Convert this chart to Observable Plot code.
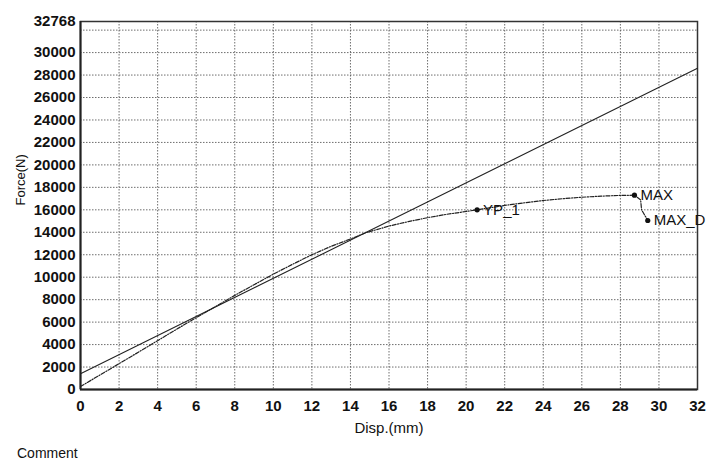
<!DOCTYPE html>
<html>
<head>
<meta charset="utf-8">
<script src="https://cdn.jsdelivr.net/npm/d3@7"></script>
<script src="https://cdn.jsdelivr.net/npm/@observablehq/plot@0.6"></script>
<style>
  html, body { margin: 0; padding: 0; background: #fff; }
  body { width: 707px; height: 460px; overflow: hidden; font-family: "Liberation Sans", Arial, sans-serif; }
  #comment { height: 20px; line-height: 20px; padding-left: 17px; padding-top: 3px; font-size: 14px; color: #111; }
</style>
</head>
<body>
<div id="chart"></div>
<div id="comment">Comment</div>
<script>
// Straight reference line (solid)
const lineDisp = [0, 32];
const lineForce = [1400, 28600];

// Measured force-displacement curve (dash-dot)
const curveDisp = [0, 1, 2, 3, 4, 5, 6, 7, 8, 9, 10, 11, 12, 13, 14, 14.8, 16, 17, 18, 19, 20, 20.57, 22, 23, 24, 25, 26, 27, 28, 28.73, 29.05, 29.1, 29.42];
const curveForce = [270, 1280, 2300, 3320, 4350, 5380, 6400, 7380, 8380, 9330, 10270, 11150, 12000, 12750, 13400, 13960, 14550, 14950, 15300, 15600, 15850, 16000, 16390, 16620, 16830, 16990, 17120, 17220, 17280, 17300, 16890, 16000, 15050];

// Marked points
const pointNames = ["YP_1", "MAX", "MAX_D"];
const pointDisp = [20.57, 28.73, 29.42];
const pointForce = [16000, 17300, 15050];

// Ticks and grid
const xTicks = [0, 2, 4, 6, 8, 10, 12, 14, 16, 18, 20, 22, 24, 26, 28, 30, 32];
const yTicks = [0, 2000, 4000, 6000, 8000, 10000, 12000, 14000, 16000, 18000, 20000, 22000, 24000, 26000, 28000, 30000, 32768];
const yGrid = [2000, 4000, 6000, 8000, 10000, 12000, 14000, 16000, 18000, 20000, 22000, 24000, 26000, 28000, 30000, 32000];
const xGrid = [2, 4, 6, 8, 10, 12, 14, 16, 18, 20, 22, 24, 26, 28, 30];

const lineData = lineDisp.map((d, i) => ({disp: d, force: lineForce[i]}));
const curveData = curveDisp.map((d, i) => ({disp: d, force: curveForce[i]}));
const pointData = pointNames.map((n, i) => ({name: n, disp: pointDisp[i], force: pointForce[i]}));

const ink = "#111";
const chart = Plot.plot({
  width: 707,
  height: 440,
  marginLeft: 80,
  marginRight: 10,
  marginTop: 21,
  marginBottom: 51,
  style: {fontFamily: "'Liberation Sans', Arial, sans-serif", background: "#fff", color: ink},
  x: {domain: [0, 32]},
  y: {domain: [0, 32768]},
  marks: [
    Plot.gridX(xGrid, {stroke: "#555", strokeOpacity: 0.85, strokeDasharray: "1.5,1.5", strokeWidth: 1}),
    Plot.gridY(yGrid, {stroke: "#555", strokeOpacity: 0.85, strokeDasharray: "1.5,1.5", strokeWidth: 1}),
    Plot.frame({stroke: "#333", strokeWidth: 1.5}),
    Plot.ruleX([0], {stroke: "#222", strokeWidth: 2}),
    Plot.ruleY([0], {stroke: "#222", strokeWidth: 2}),
    Plot.axisX(xTicks, {tickSize: 0, tickPadding: 11, fontSize: 15, fontWeight: "bold", fill: ink, label: null, tickFormat: d => String(d)}),
    Plot.axisY(yTicks, {tickSize: 0, tickPadding: 5, fontSize: 15, fontWeight: "bold", fill: ink, label: null, tickFormat: d => String(d)}),
    Plot.text(["Disp.(mm)"], {frameAnchor: "bottom", dy: 43, fontSize: 15, fill: ink}),
    Plot.text(["Force(N)"], {frameAnchor: "left", dx: -60, rotate: -90, fontSize: 13, fill: ink}),
    Plot.line(lineData, {x: "disp", y: "force", stroke: "#222", strokeWidth: 1.1}),
    Plot.line(curveData, {x: "disp", y: "force", stroke: "#222", strokeWidth: 1.2, strokeDasharray: "4,1.5,1,1.5"}),
    Plot.dot(pointData, {x: "disp", y: "force", r: 2.6, fill: "#111", stroke: "none"}),
    Plot.text(pointData, {x: "disp", y: "force", text: "name", textAnchor: "start", dx: 6, fontSize: 15, fill: ink})
  ]
});
document.getElementById("chart").appendChild(chart);
</script>
</body>
</html>
